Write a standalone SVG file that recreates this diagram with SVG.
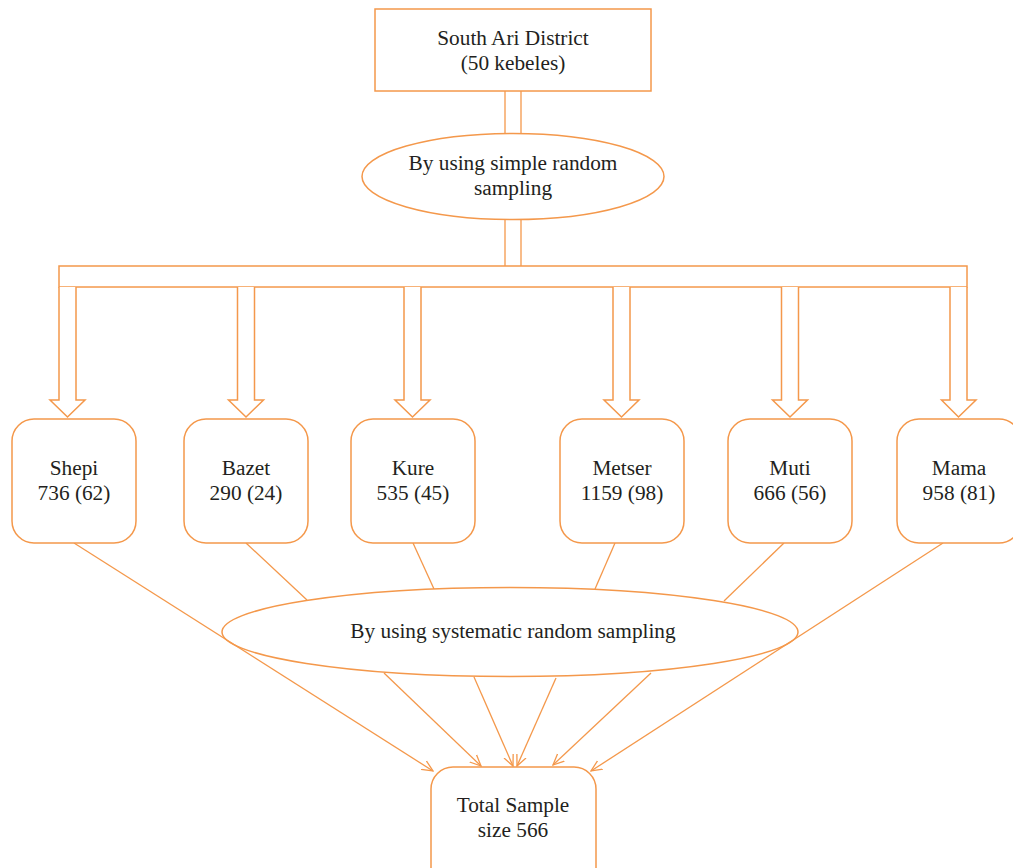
<svg xmlns="http://www.w3.org/2000/svg" width="1013" height="868" viewBox="0 0 1013 868">
<style>
.s{fill:#fff;stroke:#F4984B;stroke-width:1.5}
.c{fill:none;stroke:#F4984B;stroke-width:1.3}
text{font-family:"Liberation Serif","Times New Roman",serif;font-size:21.3px;fill:#231F20;text-anchor:middle}
</style>
<defs>
<marker id="ah" viewBox="0 0 12 12" refX="11" refY="6" markerWidth="12" markerHeight="12" markerUnits="userSpaceOnUse" orient="auto">
<path d="M0,1 L11,6 L0,11" fill="none" stroke="#F4984B" stroke-width="1.3"/>
</marker>
</defs>
<g id="connectors">
<line class="c" x1="505" y1="91" x2="505" y2="140"/>
<line class="c" x1="521" y1="91" x2="521" y2="140"/>
<line class="c" x1="505" y1="212" x2="505" y2="266"/>
<line class="c" x1="521" y1="212" x2="521" y2="266"/>
<rect class="s" x="59" y="266" width="908" height="21"/>
<path class="s" d="M59,287 V400 H50 L67.5,417 L85,400 H76 V287"/>
<path class="s" d="M237.5,287 V400 H228.5 L246,417 L263.5,400 H254.5 V287"/>
<path class="s" d="M404,287 V400 H395 L412.5,417 L430,400 H421 V287"/>
<path class="s" d="M613,287 V400 H604 L621.5,417 L639,400 H630 V287"/>
<path class="s" d="M781.5,287 V400 H772.5 L790,417 L807.5,400 H798.5 V287"/>
<path class="s" d="M950,287 V400 H941.5 L958.5,417 L976,400 H967 V287"/>
<line class="c" x1="246" y1="543" x2="307" y2="600"/>
<line class="c" x1="413" y1="543" x2="434" y2="589"/>
<line class="c" x1="615" y1="543" x2="595" y2="589"/>
<line class="c" x1="784" y1="543" x2="724" y2="601"/>
</g>
<g id="sys">
<ellipse class="s" cx="510" cy="632" rx="288" ry="44.5"/>
<text x="513" y="638">By using systematic random sampling</text>
</g>
<g id="connectors2">
<line class="c" x1="74" y1="543" x2="433" y2="771" marker-end="url(#ah)"/>
<line class="c" x1="943" y1="543" x2="591" y2="771" marker-end="url(#ah)"/>
<line class="c" x1="384" y1="673" x2="481" y2="766" marker-end="url(#ah)"/>
<line class="c" x1="474" y1="677" x2="513" y2="766" marker-end="url(#ah)"/>
<line class="c" x1="556" y1="678" x2="517" y2="766" marker-end="url(#ah)"/>
<line class="c" x1="651" y1="673" x2="553" y2="765" marker-end="url(#ah)"/>
</g>
<g id="top">
<rect class="s" x="375" y="9" width="276" height="82"/>
<text x="513" y="45">South Ari District</text>
<text x="513" y="70">(50 kebeles)</text>
</g>
<g id="srs">
<ellipse class="s" cx="513" cy="176.5" rx="151" ry="43"/>
<text x="513" y="170">By using simple random</text>
<text x="513" y="195">sampling</text>
</g>
<g id="shepi">
<rect class="s" x="12" y="419" width="124" height="124" rx="22"/>
<text x="74" y="475">Shepi</text>
<text x="74" y="500">736 (62)</text>
</g>
<g id="bazet">
<rect class="s" x="184" y="419" width="124" height="124" rx="22"/>
<text x="246" y="475">Bazet</text>
<text x="246" y="500">290 (24)</text>
</g>
<g id="kure">
<rect class="s" x="351" y="419" width="124" height="124" rx="22"/>
<text x="413" y="475">Kure</text>
<text x="413" y="500">535 (45)</text>
</g>
<g id="metser">
<rect class="s" x="560" y="419" width="124" height="124" rx="22"/>
<text x="622" y="475">Metser</text>
<text x="622" y="500">1159 (98)</text>
</g>
<g id="muti">
<rect class="s" x="728" y="419" width="124" height="124" rx="22"/>
<text x="790" y="475">Muti</text>
<text x="790" y="500">666 (56)</text>
</g>
<g id="mama">
<rect class="s" x="897" y="419" width="124" height="124" rx="22"/>
<text x="959" y="475">Mama</text>
<text x="959" y="500">958 (81)</text>
</g>
<g id="total">
<rect class="s" x="431" y="767" width="165" height="124" rx="22"/>
<text x="513" y="812">Total Sample</text>
<text x="513" y="837">size 566</text>
</g>
</svg>
